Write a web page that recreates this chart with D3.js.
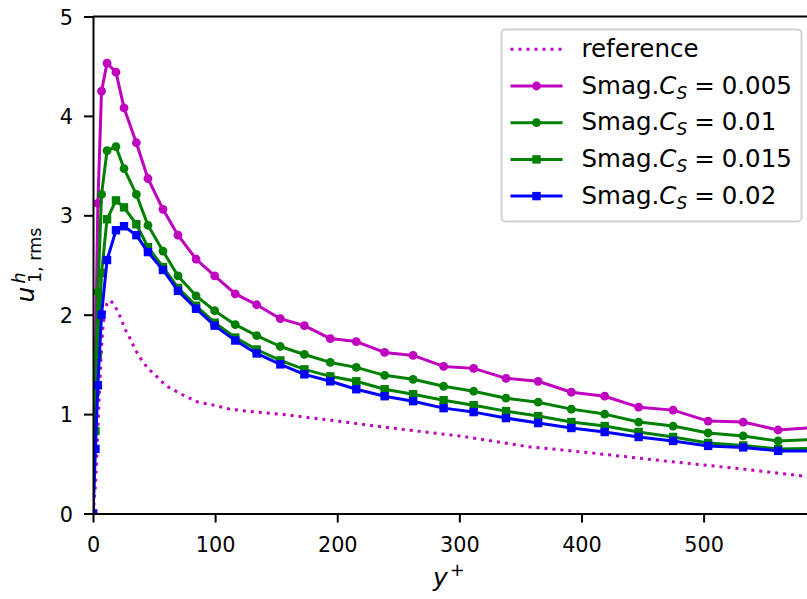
<!DOCTYPE html>
<html>
<head>
<meta charset="utf-8">
<script src="https://cdn.jsdelivr.net/npm/d3@7"></script>
<style>
  body { margin: 0; background: #fff; }
  svg { display: block; font-family: 'DejaVu Sans', sans-serif; }
</style>
</head>
<body>
<div id="chart"></div>
<script>
// y+ locations of the LES grid points (shared by the four runs)
var yPlus = [0, 2, 4, 7, 11.5, 18.8, 25.4, 35.5, 45, 57.3, 69.6, 84.4, 99.6, 116.5, 134,
  153.4, 173.1, 194.3, 215.6, 238.8, 262.1, 287.1, 311.7, 338.2, 364.5, 391.7, 419,
  446.8, 475, 503.7, 532.4, 561, 590]

var cs005 = [0, 1.6, 3.12, 4.25, 4.53, 4.44, 4.08, 3.73, 3.37, 3.06, 2.80, 2.56, 2.39, 2.21, 2.10,
  1.96, 1.89, 1.76, 1.73, 1.62, 1.59, 1.48, 1.46, 1.36, 1.33, 1.22, 1.18,
  1.07, 1.04, 0.93, 0.92, 0.84, 0.865]
var cs01 = [0, 1.2, 2.23, 3.21, 3.65, 3.69, 3.47, 3.21, 2.90, 2.64, 2.39, 2.19, 2.04, 1.90, 1.79,
  1.68, 1.60, 1.52, 1.47, 1.39, 1.35, 1.28, 1.23, 1.16, 1.12, 1.05, 1.00,
  0.92, 0.88, 0.81, 0.78, 0.73, 0.745]
var cs015 = [0, 0.83, 1.6, 2.42, 2.96, 3.15, 3.08, 2.91, 2.68, 2.48, 2.27, 2.09, 1.92, 1.77, 1.65,
  1.54, 1.45, 1.38, 1.33, 1.25, 1.20, 1.14, 1.09, 1.03, 0.98, 0.92, 0.88,
  0.82, 0.77, 0.71, 0.685, 0.65, 0.655]
var cs02 = [0, 0.65, 1.29, 2.0, 2.55, 2.85, 2.89, 2.80, 2.63, 2.45, 2.24, 2.06, 1.89, 1.74, 1.61,
  1.50, 1.40, 1.33, 1.25, 1.18, 1.13, 1.06, 1.02, 0.96, 0.91, 0.86, 0.82,
  0.77, 0.73, 0.68, 0.665, 0.63, 0.63]

// reference (DNS) profile
var refY = [0, 1, 2, 3, 4, 5, 6, 7, 8, 9, 10, 12, 14, 17, 20, 23, 26, 30, 35, 40, 45, 52, 57, 62,
  74, 86, 99, 112, 126, 153, 200, 244, 300, 358, 400, 467, 530, 590]
var refU = [0, 0.12, 0.3, 0.55, 0.85, 1.15, 1.42, 1.66, 1.85, 1.98, 2.06, 2.13, 2.14, 2.11, 2.04,
  1.96, 1.86, 1.77, 1.64, 1.54, 1.46, 1.38, 1.32, 1.27, 1.19, 1.12, 1.09, 1.05, 1.03, 1.0,
  0.93, 0.86, 0.78, 0.67, 0.62, 0.53, 0.45, 0.365]

var xTicks = [0, 100, 200, 300, 400, 500]
var yTicks = [0, 1, 2, 3, 4, 5]

var series = [
  { key: '0.005', values: cs005, color: '#bf00bf', marker: 'circle' },
  { key: '0.01', values: cs01, color: '#008000', marker: 'circle' },
  { key: '0.015', values: cs015, color: '#008000', marker: 'square' },
  { key: '0.02', values: cs02, color: '#0000ff', marker: 'square' }
]

var width = 807
var height = 599
var mLeft = 93
var mTop = 16.5
var mBottom = 513.5

var svg = d3.select('#chart').append('svg')
  .attr('width', width)
  .attr('height', height)

// x limit sits past the right edge of the picture, so the right spine is cut off
var x = d3.scaleLinear().domain([0, 600]).range([mLeft, mLeft + 1.2212 * 600])
var y = d3.scaleLinear().domain([0, 5]).range([mBottom, mTop])

svg.append('clipPath').attr('id', 'clip')
  .append('rect')
  .attr('x', mLeft).attr('y', mTop)
  .attr('width', x(600) - mLeft).attr('height', mBottom - mTop)

var plot = svg.append('g').attr('clip-path', 'url(#clip)')

var line = d3.line()
  .x(function(d) { return x(d[0]) })
  .y(function(d) { return y(d[1]) })

// reference curve, dotted
plot.append('path')
  .datum(d3.zip(refY, refU))
  .attr('d', line)
  .attr('fill', 'none')
  .attr('stroke', '#bf00bf')
  .attr('stroke-width', 3)
  .attr('stroke-dasharray', '3,5')

series.forEach(function(s) {
  var pts = d3.zip(yPlus, s.values)
  plot.append('path')
    .datum(pts)
    .attr('d', line)
    .attr('fill', 'none')
    .attr('stroke', s.color)
    .attr('stroke-width', 3)
    .attr('stroke-linejoin', 'round')
  drawMarkers(plot, pts, s)
})

function drawMarkers(g, pts, s) {
  if (s.marker === 'circle') {
    g.selectAll(null).data(pts).enter()
      .append('circle')
      .attr('cx', function(d) { return x(d[0]) })
      .attr('cy', function(d) { return y(d[1]) })
      .attr('r', 4.4)
      .attr('fill', s.color)
  } else {
    g.selectAll(null).data(pts).enter()
      .append('rect')
      .attr('x', function(d) { return x(d[0]) - 4.2 })
      .attr('y', function(d) { return y(d[1]) - 4.2 })
      .attr('width', 8.4)
      .attr('height', 8.4)
      .attr('fill', s.color)
  }
}

// axes
var xAxis = svg.append('g')
  .attr('transform', 'translate(0,' + mBottom + ')')
  .call(d3.axisBottom(x).tickValues(xTicks).tickFormat(d3.format('d')).tickSizeInner(9).tickSizeOuter(0).tickPadding(6))
var yAxis = svg.append('g')
  .attr('transform', 'translate(' + mLeft + ',0)')
  .call(d3.axisLeft(y).tickValues(yTicks).tickFormat(d3.format('d')).tickSizeInner(9).tickSizeOuter(0).tickPadding(11))

;[xAxis, yAxis].forEach(function(a) {
  a.attr('font-family', null).attr('font-size', null)
  a.select('.domain').attr('stroke', '#000').attr('stroke-width', 2)
  a.selectAll('.tick line').attr('stroke', '#000').attr('stroke-width', 2)
  a.selectAll('.tick text').style('font-size', '20.8px').attr('fill', '#000')
})
xAxis.selectAll('.tick text').attr('dy', null).attr('y', 38.5)
yAxis.selectAll('.tick text').attr('dy', '0.36em')

// top spine
svg.append('line')
  .attr('x1', mLeft).attr('x2', width)
  .attr('y1', mTop).attr('y2', mTop)
  .attr('stroke', '#000').attr('stroke-width', 2)

// axis labels
var xl = svg.append('text')
  .attr('x', 449).attr('y', 586)
  .attr('text-anchor', 'middle')
  .style('font-size', '25px')
xl.append('tspan').style('font-style', 'italic').text('y')
xl.append('tspan').attr('dy', -10).attr('dx', 2).style('font-size', '18px').text('+')

var yl = svg.append('text')
  .attr('transform', 'translate(34,265) rotate(-90)')
  .attr('text-anchor', 'middle')
  .style('font-size', '25px')
yl.append('tspan').style('font-style', 'italic').text('u')
yl.append('tspan').attr('dy', -9).attr('dx', 3).style('font-style', 'italic').style('font-size', '17.5px').text('h')
yl.append('tspan').attr('dy', 16).attr('dx', -10.5).style('font-size', '17.5px').text('1, rms')

// legend
var legend = svg.append('g')
legend.append('rect')
  .attr('x', 501.5).attr('y', 29.5)
  .attr('width', 300).attr('height', 192)
  .attr('rx', 4)
  .attr('fill', '#fff')
  .attr('stroke', '#d3d3d3')
  .attr('stroke-width', 2)

var rowY = d3.scaleLinear().domain([0, 1]).range([49.3, 86])
var lx0 = 510.5
var lx1 = 562.5
var tx = 581.5

legend.append('line')
  .attr('x1', lx0).attr('x2', lx1)
  .attr('y1', rowY(0)).attr('y2', rowY(0))
  .attr('stroke', '#bf00bf').attr('stroke-width', 3)
  .attr('stroke-dasharray', '3,5')
legend.append('text')
  .attr('x', tx).attr('y', rowY(0) + 8)
  .style('font-size', '24.5px')
  .text('reference')

series.forEach(function(s, i) {
  var ry = rowY(i + 1)
  var g = legend.append('g')
  g.append('line')
    .attr('x1', lx0).attr('x2', lx1)
    .attr('y1', ry).attr('y2', ry)
    .attr('stroke', s.color).attr('stroke-width', 3)
  drawLegendMarker(g, (lx0 + lx1) / 2, ry, s)
  var t = g.append('text')
    .attr('x', tx).attr('y', ry + 7.5)
    .style('font-size', '24.5px')
  t.append('tspan').text('Smag.')
  t.append('tspan').style('font-style', 'italic').text('C')
  t.append('tspan').attr('dy', 5).style('font-style', 'italic').style('font-size', '17px').text('S')
  t.append('tspan').attr('dy', -5).attr('dx', 7).text('=')
  t.append('tspan').attr('dx', 7).text(s.key)
})

function drawLegendMarker(g, cx, cy, s) {
  if (s.marker === 'circle') {
    g.append('circle').attr('cx', cx).attr('cy', cy).attr('r', 4.4).attr('fill', s.color)
  } else {
    g.append('rect').attr('x', cx - 4.2).attr('y', cy - 4.2)
      .attr('width', 8.4).attr('height', 8.4).attr('fill', s.color)
  }
}
</script>
</body>
</html>
